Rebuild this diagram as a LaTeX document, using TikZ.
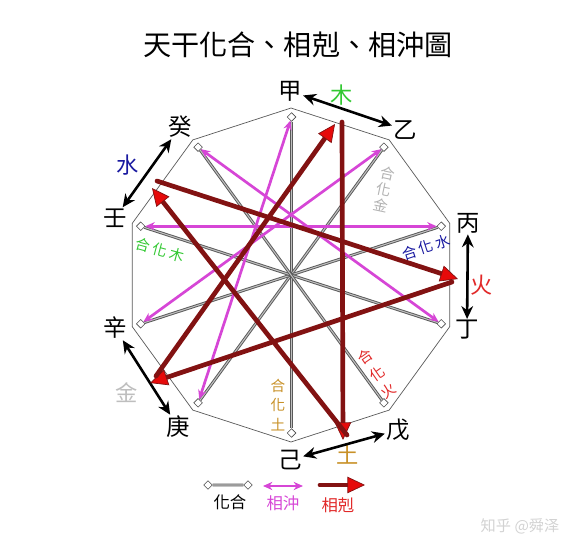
\documentclass[tikz,border=0pt]{standalone}
\usepackage{fontspec}
\usepackage{tkz-euclide}
\usetikzlibrary{arrows.meta,shapes.geometric}
\newfontfamily\hanzi{Noto Sans CJK TC}
\newfontfamily\jianti{Noto Sans CJK SC}
\definecolor{kered}{RGB}{130,18,18}
\definecolor{kehead}{RGB}{230,10,10}
\definecolor{chongpink}{RGB}{214,70,214}
\definecolor{tugold}{RGB}{200,145,40}
\definecolor{shuiblue}{RGB}{25,25,160}
\definecolor{mugreen}{RGB}{50,200,50}
\definecolor{huored}{RGB}{225,40,40}
\definecolor{jingray}{RGB}{190,190,190}
\tikzset{>=Stealth}
\tikzset{
  hehua/.style={draw=gray!70!black, double=gray!50, double distance=0.9pt, line width=0.8pt},
  dia/.style={diamond, draw=gray!60!black, fill=white, line width=0.5pt, inner sep=0pt, minimum size=7.5pt},
  chong/.style={draw=chongpink, line width=2.3pt, {Stealth[length=8pt,width=7pt]}-{Stealth[length=8pt,width=7pt]}},
  ke/.style={draw=kered, line width=4pt, -{Triangle[length=15pt,width=14pt,fill=kehead,line width=0.6pt]}},
  wuxing/.style={black, line width=2.2pt, {Stealth[length=11pt,width=10pt]}-{Stealth[length=11pt,width=10pt]}},
  gan/.style={font=\hanzi\fontsize{20}{20}\selectfont, inner sep=1pt},
  xing/.style={font=\hanzi\fontsize{19}{19}\selectfont, inner sep=0pt},
  hua/.style={font=\hanzi\fontsize{12.5}{14}\selectfont, inner sep=0pt, align=center},
  tuli/.style={font=\hanzi\fontsize{14}{14}\selectfont, inner sep=0pt}
}

\begin{document}
\begin{tikzpicture}[scale=0.03]
    \useasboundingbox (-291,-276) rectangle (291,275);
    \node[font=\hanzi\fontsize{24}{24}\selectfont] (title) at (7,230) {天干化合、相剋、相沖圖};
    % decagon
    \tkzDefPoints{0/167/Jia, 98.2/135.1/Yi, 158.8/51.6/Bing, 158.8/-51.6/Ding, 98.2/-135.1/Wu,
      0/-167/Ji, -98.2/-135.1/Geng, -158.8/-51.6/Xin, -158.8/51.6/Ren, -98.2/135.1/Gui}
    \tkzDrawPolygon[draw=gray!70!black, line width=0.6pt](Jia,Yi,Bing,Ding,Wu,Ji,Geng,Xin,Ren,Gui)
    % stems
    \node[gan] (lJia)  at (-1,184)    {甲};
    \node[gan] (lYi)   at (114,145)   {乙};
    \node[gan] (lBing) at (177,52)    {丙};
    \node[gan] (lDing) at (176,-55)   {丁};
    \node[gan] (lWu)   at (107,-155)  {戊};
    \node[gan] (lJi)   at (-1,-185)   {己};
    \node[gan] (lGeng) at (-113,-152) {庚};
    \node[gan] (lXin)  at (-176,-53)  {辛};
    \node[gan] (lRen)  at (-176,57)   {壬};
    \node[gan] (lGui)  at (-111,148)  {癸};
    % five elements
    \node[xing, mugreen]  (tMu)   at (51,180)    {木};
    \node[xing, huored]   (tHuo)  at (191,-10)   {火};
    \node[xing, tugold]   (tTu)   at (57,-180)   {土};
    \node[xing, jingray]  (tJin)  at (-164,-118) {金};
    \node[xing, shuiblue] (tShui) at (-163,110)  {水};
    \draw[wuxing] (lJia) -- (lYi);
    \draw[wuxing] (lBing) -- (lDing);
    \draw[wuxing] (lJi) -- (lWu);
    \draw[wuxing] (lXin) -- (lGeng);
    \draw[wuxing] (lRen) -- (lGui);
    % diamonds at the stems
    \node[dia] (dJia)  at (0.6,158)      {};
    \node[dia] (dYi)   at (92.9,127.8)   {};
    \node[dia] (dBing) at (150.3,48.8)   {};
    \node[dia] (dDing) at (150.3,-48.8)  {};
    \node[dia] (dWu)   at (92.9,-127.8)  {};
    \node[dia] (dJi)   at (0.6,-158)     {};
    \node[dia] (dGeng) at (-92.9,-127.8) {};
    \node[dia] (dXin)  at (-150.3,-48.8) {};
    \node[dia] (dRen)  at (-150.3,48.8)  {};
    \node[dia] (dGui)  at (-92.9,127.8)  {};
    % he hua
    \draw[hehua] (dJia) -- (dJi);
    \draw[hehua] (dYi) -- (dGeng);
    \draw[hehua] (dBing) -- (dXin);
    \draw[hehua] (dDing) -- (dRen);
    \draw[hehua] (dWu) -- (dGui);
    % xiang chong
    \draw[chong] (dJia) -- (dGeng);
    \draw[chong] (dYi) -- (dXin);
    \draw[chong] (dBing) -- (dRen);
    \draw[chong] (dDing) -- (dGui);
    % xiang ke
    \tkzDefPoints{44/151/MuIn, 51/153/MuOut, 52/-165/TuIn, 56/-160/TuOut, -139/87/ShuiIn,
      -134/94/ShuiOut, 167/-4/HuoIn, 161/-7/HuoOut, -141/-108/JinIn, -135/-101/JinOut}
    \tkzDrawSegments[ke](MuOut,TuIn TuOut,ShuiIn ShuiOut,HuoIn HuoOut,JinIn JinOut,MuIn)
    % he hua labels
    \node[hua, gray!60, rotate=-12, font=\hanzi\fontsize{12.5}{14}\selectfont] (hJin) at (93,86) {合\\化\\金};
    \node[hua, shuiblue, rotate=18] (hShui) at (135,28) {合\hspace{2.5pt}化\hspace{2.5pt}水};
    \node[hua, mugreen, rotate=-15] (hMu) at (-131,25) {合\hspace{2.5pt}化\hspace{2.5pt}木};
    \node[hua, huored, rotate=35, font=\hanzi\fontsize{12.5}{17.5}\selectfont] (hHuo) at (86,-99) {合\\化\\火};
    \node[hua, tugold, font=\hanzi\fontsize{12.5}{17}\selectfont] (hTu) at (-13,-130) {合\\化\\土};
    % legend
    \node[dia] (dLa) at (-83,-210) {};
    \node[dia] (dLb) at (-43,-210) {};
    \draw[hehua] (dLa) -- (dLb);
    \coordinate (cLa) at (-28,-211);
    \coordinate (cLb) at (12,-211);
    \draw[chong] (cLa) -- (cLb);
    \tkzDefPoints{29/-210/kLa, 74/-210/kLb}
    \tkzDrawSegment[ke](kLa,kLb)
    \node[tuli] (tHe) at (-61,-227) {化合};
    \node[tuli, chongpink] (tChong) at (-8,-228) {相沖};
    \node[tuli, huored] (tKe) at (47,-230) {相剋};
    \node[font=\jianti\fontsize{13}{13}\selectfont, gray!35] (mark) at (229,-251) {知乎 @舜泽};
\end{tikzpicture}
\end{document}
